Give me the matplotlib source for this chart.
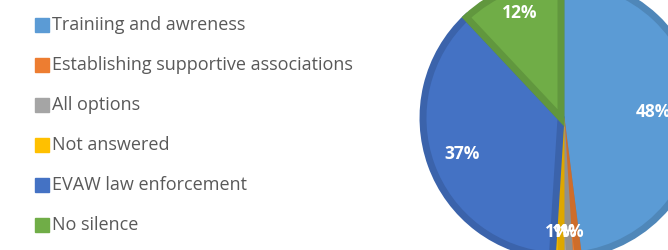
import numpy as np
import matplotlib.pyplot as plt
from matplotlib.colors import to_rgb

categories = ['Trainiing and awreness', 'Establishing supportive associations',
              'All options', 'Not answered', 'EVAW law enforcement', 'No silence']
values = [48, 1, 1, 1, 37, 12]
colors = ['#5B9BD5', '#ED7D31', '#A5A5A5', '#FFC000', '#4472C4', '#70AD47']
label_dist = [0.67, 0.83, 0.83, 0.83, 0.76, 0.82]

plt.rcParams['font.family'] = ['Open Sans', 'DejaVu Sans']

fig = plt.figure(figsize=(6.68, 2.5), dpi=100)
ax = fig.add_axes([0, 0, 1, 1])

# pie partly runs off the canvas, like the cropped original
center = (561, 132)
radius = 138
wedges, _ = ax.pie(values, colors=colors, startangle=90, counterclock=False,
                   center=center, radius=radius, frame=True,
                   wedgeprops=dict(linewidth=5))
ax.set_xlim(0, 668)
ax.set_ylim(0, 250)
ax.set_aspect('equal')
ax.axis('off')

for w, c in zip(wedges, colors):
    w.set_edgecolor(tuple(v * 0.87 for v in to_rgb(c)))

for w, v, d in zip(wedges, values, label_dist):
    mid = np.deg2rad((w.theta1 + w.theta2) / 2)
    x = center[0] + d * radius * np.cos(mid)
    y = center[1] + d * radius * np.sin(mid)
    ax.text(x, y, f'{v}%', color='white', fontsize=12.5, fontweight='bold',
            ha='center', va='center')

# legend drawn by hand to keep the wide row spacing
for i, (name, c) in enumerate(zip(categories, colors)):
    y = 250 - (25 + i * 40)
    ax.add_patch(plt.Rectangle((35, y - 7), 14, 14, color=c))
    ax.text(52, y, name, color='#595959', fontsize=13, va='center', ha='left')

fig.savefig('out.png', dpi=100)
